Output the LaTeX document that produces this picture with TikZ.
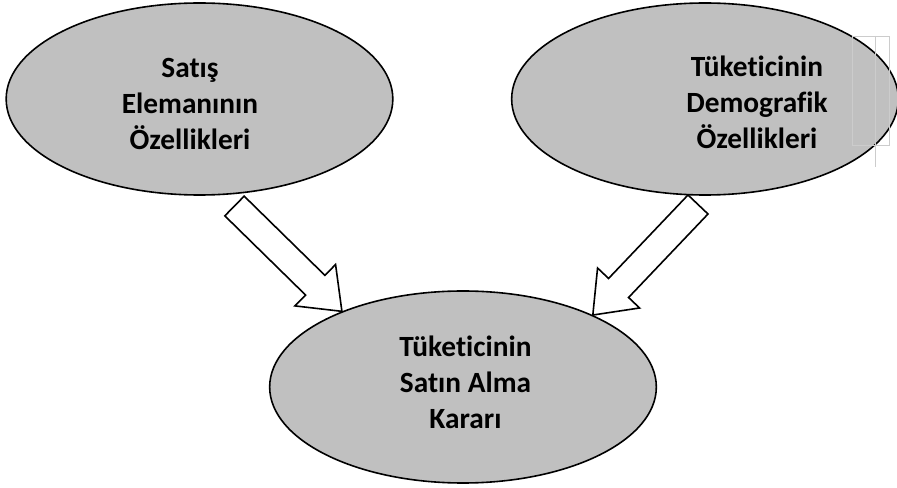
\documentclass[tikz,border=0pt]{standalone}
\usepackage{fontspec}
\setmainfont[Ligatures={NoCommon}]{Carlito}
\usetikzlibrary{shapes.geometric,calc}
\definecolor{ovalgray}{RGB}{192,192,192}

\begin{document}
\begin{tikzpicture}[x=0.75pt, y=-0.75pt]
		\useasboundingbox (0,0) rectangle (897,488);
		\begin{scope}[every node/.style={ellipse, draw, line width=1.2pt, fill=ovalgray, minimum width=290pt, minimum height=144pt}]
			\node (A) at (199.5,99) {};
			\node (B) at (705,99) {};
			\node (C) at (463,387) {};
		\end{scope}

		\begin{scope}[every node/.style={align=center, inner sep=0pt, font=\bfseries\fontsize{22}{27}\selectfont}]
			\node (D) at (190,103.5) {Satış\\Elemanının\\Özellikleri};
			\node (E) at (757,102) {Tüketicinin\\Demografik\\Özellikleri};
			\node (F) at (465.5,382) {Tüketicinin\\Satın Alma\\Kararı};
		\end{scope}

		% faint frame lines beside the right oval
		\draw[black!20, line width=0.6pt] (852,36) rectangle (889,145);
		\draw[black!20, line width=0.6pt] (875,36) -- (875,167);

		\begin{scope}[line width=1.2pt]
			\coordinate (P) at (234.5,206);
			\coordinate (Q) at (C.148);
			\coordinate (R) at ($(Q)!28pt!(P)$);
			\draw[fill=white] ($(P)!10.35pt!90:(Q)$) -- ($(R)!10.35pt!90:(Q)$) -- ($(R)!21.75pt!90:(Q)$) -- (Q)
				-- ($(R)!21.75pt!-90:(Q)$) -- ($(R)!10.35pt!-90:(Q)$) -- ($(P)!10.35pt!-90:(Q)$) -- cycle;

			\coordinate (U) at (698,204.5);
			\coordinate (V) at (C.29);
			\coordinate (W) at ($(V)!28pt!(U)$);
			\draw[fill=white] ($(U)!10.35pt!90:(V)$) -- ($(W)!10.35pt!90:(V)$) -- ($(W)!21.75pt!90:(V)$) -- (V)
				-- ($(W)!21.75pt!-90:(V)$) -- ($(W)!10.35pt!-90:(V)$) -- ($(U)!10.35pt!-90:(V)$) -- cycle;
		\end{scope}
\end{tikzpicture}
\end{document}
